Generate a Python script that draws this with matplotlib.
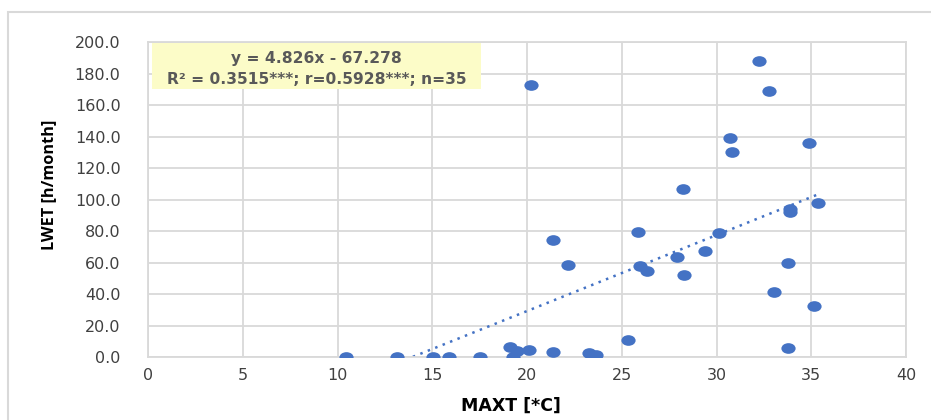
import matplotlib

matplotlib.use("Agg")
import matplotlib.pyplot as plt
import numpy as np
from matplotlib import font_manager
from matplotlib.path import Path
from matplotlib.patches import Rectangle

# MAXT [*C] vs LWET [h/month]
maxt = [10.44, 13.11, 15.05, 15.86, 17.51, 19.11, 19.45, 19.27, 20.1, 21.38,
        23.28, 23.62, 25.34, 33.76, 35.13, 33.02, 28.3, 26.31, 25.96, 22.18,
        33.78, 27.93, 29.41, 21.38, 30.15, 25.84, 33.9, 33.9, 35.34, 28.23,
        30.82, 34.88, 30.7, 32.79, 32.24, 20.2]
lwet = [0.0, 0.0, 0.0, 0.0, 0.0, 6.6, 3.6, 0.2, 4.2, 3.4,
        2.3, 1.3, 11.0, 5.9, 32.5, 41.2, 52.0, 54.7, 58.1, 58.3,
        59.8, 63.4, 67.4, 74.2, 78.6, 79.3, 91.9, 93.8, 98.0, 106.7,
        130.6, 135.7, 139.3, 168.9, 188.1, 172.7]

# trendline as printed on the chart
slope, intercept = 4.826, -67.278
eq_line = "y = 4.826x - 67.278"
stats_line = "R² = 0.3515***; r=0.5928***; n=35"

x_ticks = [0, 5, 10, 15, 20, 25, 30, 35, 40]
y_ticks = [0, 20, 40, 60, 80, 100, 120, 140, 160, 180, 200]

BLUE = "#4472C4"
GRID = "#D9D9D9"
TEXT = "#404040"

plt.rcParams["font.family"] = ["DejaVu Sans"]

# the vertical label looks condensed in the (stretched) original
try:
    font_manager.findfont("Liberation Sans Narrow", fallback_to_default=False)
    ylab_font, ylab_size = "Liberation Sans Narrow", 14.2
except ValueError:
    ylab_font, ylab_size = "Open Sans", 11.7

fig = plt.figure(figsize=(9.31, 4.2), dpi=100)
ax = fig.add_axes([148.3 / 931, 1 - 357 / 420, (906 - 148.3) / 931, (357 - 42.3) / 420])

# chart-area border (runs off the right and bottom edges in the reference)
fig.patches.append(Rectangle((8 / 931, -0.1), 1.2, 1 - 12 / 420 + 0.1,
                             transform=fig.transFigure, fill=False,
                             edgecolor=GRID, linewidth=1.5))

# slightly wide ellipse marker, like the stretched Excel dots
circ = Path.unit_circle()
ell = Path(circ.vertices * np.array([1.0, 0.75]), circ.codes)
ax.scatter(maxt, lwet, marker=ell, s=105, color=BLUE, zorder=3, linewidths=0)

xs = np.linspace(min(maxt), max(maxt), 200)
ax.plot(xs, slope * xs + intercept, color=BLUE, linestyle=(0, (1, 2.2)),
        linewidth=1.8, zorder=2)

ax.set_xlim(0, 40)
ax.set_ylim(0, 200)
ax.set_xticks(x_ticks)
ax.set_yticks(y_ticks)
ax.set_yticklabels([f"{v:.1f}" for v in y_ticks])
ax.grid(True, color=GRID, linewidth=1.3)
ax.set_axisbelow(True)
for s in ax.spines.values():
    s.set_color(GRID)
    s.set_linewidth(1.3)
ax.tick_params(length=0, labelsize=11.5, labelcolor=TEXT)
ax.tick_params(axis="y", pad=20)
ax.tick_params(axis="x", pad=8)

ax.set_xlabel("MAXT [*C]", fontsize=12.5, fontweight="bold", color="black")
ax.xaxis.set_label_coords(0.478, -0.125)
ax.set_ylabel("LWET [h/month]", fontsize=ylab_size, fontweight="bold", color="black",
              family=[ylab_font, "DejaVu Sans"])
ax.yaxis.set_label_coords(-0.1205, 0.548)

# yellow equation box
ax.add_patch(Rectangle((0.0049, 0.8516), 0.4342, 0.1462, transform=ax.transAxes,
                       facecolor="#FCFCC8", edgecolor="none", zorder=4, clip_on=False))
ax.text(0.222, 0.949, eq_line, transform=ax.transAxes, ha="center", va="center",
        fontsize=11.2, fontweight="bold", color="#595959", zorder=5)
ax.text(0.222, 0.883, stats_line, transform=ax.transAxes, ha="center", va="center",
        fontsize=11.2, fontweight="bold", color="#595959", zorder=5)

fig.savefig("out.png", dpi=100)
